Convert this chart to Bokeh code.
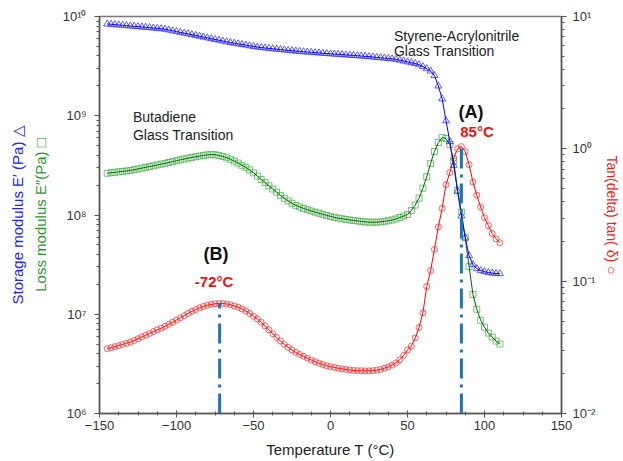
from bokeh.plotting import figure
from bokeh.models import (Range1d, LogAxis, LogScale, FixedTicker, SingleIntervalTicker,
                          CustomJSTickFormatter, Label, ColumnDataSource)
from bokeh.embed import file_html
from bokeh.resources import INLINE

# ---------------- data ----------------
temperature_c = [
    -145, -142.5, -140, -137.5, -135, -132.5, -130, -127.5, -125, -122.5,
    -120, -117.5, -115, -112.5, -110, -107.5, -105, -102.5, -100, -97.5,
    -95, -92.5, -90, -87.5, -85, -82.5, -80, -77.5, -75, -72.5,
    -70, -67.5, -65, -62.5, -60, -57.5, -55, -52.5, -50, -47.5,
    -45, -42.5, -40, -37.5, -35, -32.5, -30, -27.5, -25, -22.5,
    -20, -17.5, -15, -12.5, -10, -7.5, -5, -2.5, 0, 2.5,
    5, 7.5, 10, 12.5, 15, 17.5, 20, 22.5, 25, 27.5,
    30, 32.5, 35, 37.5, 40, 42.5, 45, 47.5, 50, 52.5,
    55, 57.5, 60, 62.5, 65, 67.5, 70, 72.5, 75, 77.5,
    80, 82.5, 85, 87.5, 90, 92.5, 95, 97.5, 100, 102.5,
    105, 107.5, 110]

# log10 of storage modulus E' (Pa)
log10_storage_modulus = [
    9.925, 9.922, 9.918, 9.915, 9.911, 9.908, 9.905, 9.901, 9.898, 9.894,
    9.891, 9.888, 9.884, 9.880, 9.877, 9.872, 9.864, 9.856, 9.848, 9.840,
    9.832, 9.825, 9.817, 9.809, 9.801, 9.793, 9.785, 9.777, 9.769, 9.761,
    9.753, 9.745, 9.738, 9.731, 9.725, 9.718, 9.712, 9.705, 9.699, 9.693,
    9.687, 9.683, 9.679, 9.675, 9.671, 9.667, 9.663, 9.659, 9.655, 9.651,
    9.648, 9.645, 9.642, 9.639, 9.636, 9.633, 9.630, 9.627, 9.624, 9.621,
    9.619, 9.616, 9.613, 9.610, 9.608, 9.605, 9.602, 9.599, 9.596, 9.592,
    9.588, 9.585, 9.581, 9.577, 9.573, 9.569, 9.560, 9.552, 9.543, 9.535,
    9.527, 9.514, 9.495, 9.475, 9.450, 9.405, 9.300, 9.170, 8.950, 8.740,
    8.500, 8.240, 7.990, 7.770, 7.590, 7.500, 7.460, 7.440, 7.430, 7.420,
    7.415, 7.410, 7.410]

# log10 of loss modulus E'' (Pa)
log10_loss_modulus = [
    8.421, 8.426, 8.430, 8.435, 8.439, 8.444, 8.449, 8.456, 8.464, 8.472,
    8.480, 8.488, 8.496, 8.504, 8.512, 8.520, 8.529, 8.538, 8.547, 8.556,
    8.564, 8.573, 8.580, 8.587, 8.594, 8.600, 8.606, 8.609, 8.607, 8.600,
    8.590, 8.577, 8.561, 8.543, 8.523, 8.501, 8.480, 8.455, 8.425, 8.392,
    8.358, 8.327, 8.294, 8.262, 8.230, 8.197, 8.168, 8.142, 8.118, 8.097,
    8.081, 8.066, 8.052, 8.040, 8.029, 8.018, 8.007, 7.996, 7.986, 7.976,
    7.968, 7.962, 7.956, 7.950, 7.945, 7.940, 7.935, 7.931, 7.928, 7.927,
    7.928, 7.931, 7.936, 7.942, 7.950, 7.960, 7.975, 7.990, 8.005, 8.045,
    8.100, 8.170, 8.270, 8.385, 8.520, 8.640, 8.730, 8.780, 8.770, 8.710,
    8.540, 8.250, 8.030, 7.770, 7.480, 7.200, 7.050, 6.940, 6.870, 6.810,
    6.770, 6.730, 6.700]

# log10 of tan(delta)
log10_tan_delta = [
    -1.510, -1.503, -1.495, -1.487, -1.478, -1.470, -1.461, -1.448, -1.435, -1.421,
    -1.408, -1.395, -1.381, -1.368, -1.355, -1.341, -1.326, -1.310, -1.294, -1.277,
    -1.261, -1.244, -1.228, -1.214, -1.201, -1.191, -1.182, -1.176, -1.171, -1.169,
    -1.169, -1.172, -1.178, -1.187, -1.197, -1.210, -1.226, -1.244, -1.264, -1.285,
    -1.310, -1.338, -1.367, -1.397, -1.425, -1.452, -1.477, -1.500, -1.520, -1.538,
    -1.554, -1.568, -1.582, -1.596, -1.609, -1.620, -1.630, -1.639, -1.646, -1.652,
    -1.658, -1.663, -1.667, -1.671, -1.674, -1.676, -1.677, -1.678, -1.678, -1.676,
    -1.672, -1.667, -1.658, -1.648, -1.635, -1.618, -1.594, -1.560, -1.520, -1.490,
    -1.430, -1.350, -1.240, -1.040, -0.920, -0.760, -0.590, -0.450, -0.270, -0.180,
    -0.070, 0.000, 0.017, -0.020, -0.120, -0.250, -0.350, -0.440, -0.520, -0.580,
    -0.640, -0.680, -0.710]

peak_temperature_c = [-72, 85]
peak_tan_delta = [0.0678, 1.04]
peak_labels = ["(B)", "(A)"]
peak_value_labels = ["-72°C", "85°C"]

left_ticks = [1e6, 1e7, 1e8, 1e9, 1e10]
left_labels = ["10⁶", "10⁷", "10⁸", "10⁹", "10¹⁰"]
right_ticks = [0.01, 0.1, 1, 10]
right_labels = ["10⁻²", "10⁻¹", "10⁰", "10¹"]

x_title = "Temperature T (°C)"
storage_title = "Storage modulus E′ (Pa) △"
loss_title = "Loss modulus E″(Pa) □"
tan_title = "Tan(delta) tan( δ) ○"

FONT = "Liberation Sans"

src = ColumnDataSource(dict(
    t=temperature_c,
    e1=[10 ** v for v in log10_storage_modulus],
    e2=[10 ** v for v in log10_loss_modulus],
    td=[10 ** v for v in log10_tan_delta],
))

p = figure(width=623, height=461, output_backend="svg", toolbar_location=None,
           x_range=Range1d(-150, 150), y_range=Range1d(1e6, 1e10), y_axis_type="log",
           min_border_left=99, min_border_right=62, min_border_top=16, min_border_bottom=48)
p.extra_y_ranges = {"tan": Range1d(0.01, 10)}
p.extra_y_scales = {"tan": LogScale()}
p.xgrid.visible = False
p.ygrid.visible = False
p.outline_line_color = "#7a7a7a"
p.outline_line_width = 1.5
p.background_fill_color = "white"
p.border_fill_color = "white"

FMT_CODE = """
const k = tvals.findIndex(t => Math.abs(Math.log10(t) - Math.log10(tick)) < 1e-6);
return k >= 0 ? tlabels[k] : "";
"""

AX = "#555555"
BLUE = "#2222ee"
GREEN = "#2e9a2e"
RED = "#ee2222"

# bottom axis
xa = p.xaxis[0]
xa.ticker = SingleIntervalTicker(interval=50, num_minor_ticks=4)
xa.major_tick_in = 3
xa.major_tick_out = 4
xa.minor_tick_in = 2
xa.minor_tick_out = 2
xa.major_label_standoff = 3
xa.axis_label = x_title
xa.axis_label_text_color = "#222222"
xa.axis_label_standoff = 8

# left axis (loss modulus title next to it)
ya = p.yaxis[0]
minor = [k * 10 ** e for e in range(6, 10) for k in range(2, 10)]
ya.ticker = FixedTicker(ticks=left_ticks, minor_ticks=minor)
ya.formatter = CustomJSTickFormatter(args=dict(tvals=left_ticks, tlabels=left_labels),
                                     code=FMT_CODE)
ya.major_tick_in = 0
ya.major_tick_out = 5
ya.minor_tick_in = 0
ya.minor_tick_out = 3
ya.major_label_standoff = 8
ya.axis_label = loss_title
ya.axis_label_text_color = GREEN
ya.axis_label_standoff = 11

# outer left title-only axis for the storage modulus
ta = LogAxis(ticker=FixedTicker(ticks=[]), axis_line_color=None,
             major_tick_line_color=None, minor_tick_line_color=None,
             axis_label=storage_title, axis_label_text_color=BLUE,
             axis_label_standoff=3)
p.add_layout(ta, "left")

# right axis for tan(delta)
ra = LogAxis(y_range_name="tan")
rminor = [k * 10 ** e for e in range(-2, 1) for k in range(2, 10)]
ra.ticker = FixedTicker(ticks=right_ticks, minor_ticks=rminor)
ra.formatter = CustomJSTickFormatter(args=dict(tvals=right_ticks, tlabels=right_labels),
                                     code=FMT_CODE)
ra.major_tick_in = 0
ra.major_tick_out = 5
ra.minor_tick_in = 0
ra.minor_tick_out = 3
ra.major_label_standoff = 6
ra.axis_label = tan_title
ra.axis_label_text_color = RED
ra.axis_label_standoff = 6
p.add_layout(ra, "right")

for ax in (xa, ya, ra):
    ax.axis_line_color = AX
    ax.axis_line_width = 1.5
    ax.major_tick_line_color = AX
    ax.minor_tick_line_color = AX
    ax.major_label_text_font = FONT
    ax.major_label_text_font_size = "13px"
    ax.major_label_text_color = "#333333"
for ax in (xa, ya, ra, ta):
    ax.axis_label_text_font = FONT
    ax.axis_label_text_font_size = "15px"
    ax.axis_label_text_font_style = "normal"
ra.axis_label_text_font_size = "14px"

# series
p.line("t", "td", source=src, y_range_name="tan", line_color="#ff0000", line_width=1)
p.scatter("t", "td", source=src, y_range_name="tan", marker="circle", size=6,
          fill_color=None, line_color="#ff2a2a", line_alpha=0.75, line_width=1)
p.scatter("t", "e2", source=src, marker="square", size=6,
          fill_color=None, line_color="#3aa83a", line_alpha=0.7, line_width=1)
p.line("t", "e2", source=src, line_color="#006400", line_width=1)
p.scatter("t", "e1", source=src, marker="triangle", size=7,
          fill_color=None, line_color="#2a2aff", line_alpha=0.75, line_width=1)
p.line("t", "e1", source=src, line_color="#0000ff", line_width=1)

# dash-dot guide lines to the tan(delta) peaks
p.segment(x0=peak_temperature_c, y0=[0.01, 0.01], x1=peak_temperature_c, y1=peak_tan_delta,
          y_range_name="tan", line_color="#1f74b6", line_width=3, line_dash="20 6 3 6")

# annotations
def lab(text, x, y, **kw):
    opts = dict(text_font=FONT, text_font_size="14px", text_color="#222222",
                text_align="left", text_baseline="middle")
    opts.update(kw)
    p.add_layout(Label(x=x, y=y, text=text, **opts))

lab("Styrene-Acrylonitrile", 41.2, 6.43e9)
lab("Glass Transition", 41.2, 4.44e9)
lab("Butadiene", -128.3, 9.82e8)
lab("Glass Transition", -128.3, 6.46e8)
lab(peak_labels[1], 91.2, 1.10e9, text_font_size="18px", text_font_style="bold",
    text_color="#111111", text_align="center")
lab(peak_value_labels[1], 95.1, 6.93e8, text_font_size="15px", text_font_style="bold",
    text_color="#ee1111", text_align="center")
lab(peak_labels[0], -74.3, 4.04e7, text_font_size="18px", text_font_style="bold",
    text_color="#111111", text_align="center")
lab(peak_value_labels[0], -75.6, 2.13e7, text_font_size="15px", text_font_style="bold",
    text_color="#ee1111", text_align="center")

open("out.html", "w").write(file_html(p, INLINE))
